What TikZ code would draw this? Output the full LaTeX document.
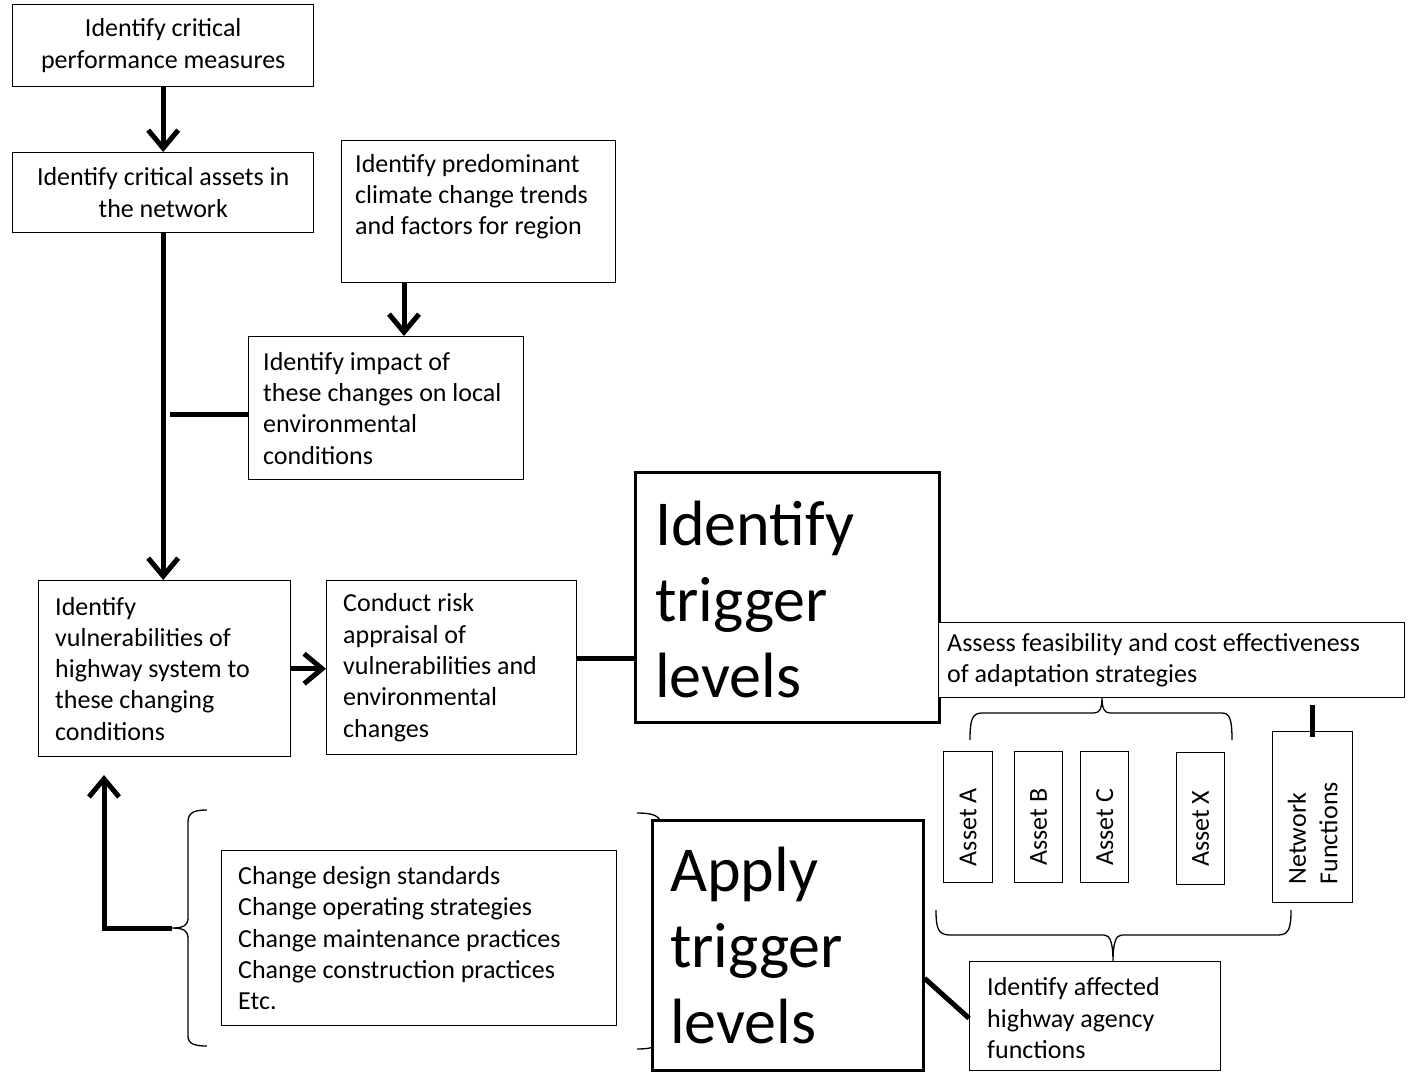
\documentclass[tikz,border=0pt]{standalone}
\usepackage{fontspec}
\setmainfont{Carlito}
\usetikzlibrary{arrows.meta}

\begin{document}
\begin{tikzpicture}[x=1pt,y=-1pt,
  box/.style={draw, line width=1.4pt, fill=white, inner sep=0pt, anchor=north west},
  heavybox/.style={box, line width=2.6pt},
  txt/.style={font=\fontsize{26}{31.3}\selectfont, inner sep=0pt, align=left},
  bigtxt/.style={font=\fontsize{64}{76}\selectfont, inner sep=0pt, align=left},
  flow/.style={line width=5pt, -{Straight Barb[length=18pt,width=30pt]}},
  link/.style={line width=5pt},
  curly/.style={line width=1.3pt}]

\useasboundingbox (0,0) rectangle (1408,1072);

% braces (drawn first so boxes can cover them)
\draw[curly] (970,740) .. controls (970,720) and (972,713) .. (982,713) -- (1094,713)
  .. controls (1100,713) and (1102,708) .. (1102,697)
  .. controls (1102,708) and (1104,713) .. (1110,713) -- (1222,713)
  .. controls (1230,713) and (1232,720) .. (1232,740);
\draw[curly] (936,910) .. controls (936,928) and (938,935) .. (950,935) -- (1104,935)
  .. controls (1110,935) and (1113,942) .. (1113,962)
  .. controls (1113,942) and (1116,935) .. (1122,935) -- (1278,935)
  .. controls (1289,935) and (1291,928) .. (1291,910);
\draw[curly] (207,810) .. controls (195,810) and (188,812) .. (188,822) -- (188,918)
  .. controls (188,925) and (184,928) .. (172,928)
  .. controls (184,928) and (188,931) .. (188,938) -- (188,1036)
  .. controls (188,1044) and (195,1046) .. (207,1046);
\draw[curly] (637,813) .. controls (652,813) and (662,815) .. (662,828) -- (662,918)
  .. controls (662,925) and (668,930) .. (680,930)
  .. controls (668,930) and (662,935) .. (662,942) -- (662,1038)
  .. controls (662,1046) and (652,1049) .. (637,1049);

% boxes
\node[box, minimum width=301, minimum height=82] (b1) at (12,4) {};
\node[box, minimum width=301, minimum height=80] (b2) at (12,152) {};
\node[box, minimum width=274, minimum height=142] (b3) at (341,140) {};
\node[box, minimum width=275, minimum height=143] (b4) at (248,336) {};
\node[box, minimum width=252, minimum height=176] (b5) at (38,580) {};
\node[box, minimum width=250, minimum height=174] (b6) at (326,580) {};
\node[heavybox, minimum width=304, minimum height=250] (b7) at (634,471) {};
\node[box, minimum width=466, minimum height=75] (b8) at (938,622) {};
\node[box, minimum width=49, minimum height=131] (aA) at (943,751) {};
\node[box, minimum width=48, minimum height=131] (aB) at (1014,751) {};
\node[box, minimum width=48, minimum height=131] (aC) at (1080,751) {};
\node[box, minimum width=48, minimum height=132] (aX) at (1176,752) {};
\node[box, minimum width=80, minimum height=171] (nf) at (1272,731) {};
\node[box, minimum width=395, minimum height=175] (b11) at (221,850) {};
\node[heavybox, minimum width=271, minimum height=250] (b10) at (651,819) {};
\node[box, minimum width=251, minimum height=109] (b9) at (969,961) {};

% texts
\node[txt, align=center] (t1) at (b1.center) {Identify critical\\performance measures};
\node[txt, align=center] (t2) at (b2.center) {Identify critical assets in\\the network};
\node[txt, anchor=west] (t3) at ([shift={(14,-15)}]b3.west) {Identify predominant\\climate change trends\\and factors for region};
\node[txt, anchor=west] (t4) at ([shift={(15,0)}]b4.west) {Identify impact of\\these changes on local\\environmental\\conditions};
\node[txt, anchor=west] (t5) at ([shift={(17,0)}]b5.west) {Identify\\vulnerabilities of\\highway system to\\these changing\\conditions};
\node[txt, anchor=west] (t6) at ([shift={(17,0)}]b6.west) {Conduct risk\\appraisal of\\vulnerabilities and\\environmental\\changes};
\node[bigtxt, anchor=west] (t7) at ([shift={(21,2)}]b7.west) {Identify\\trigger\\levels};
\node[txt, anchor=west] (t8) at ([shift={(9,0)}]b8.west) {Assess feasibility and cost effectiveness\\of adaptation strategies};
\node[txt, rotate=90] (tA) at ([shift={(0,10)}]aA.center) {Asset A};
\node[txt, rotate=90] (tB) at ([shift={(0,10)}]aB.center) {Asset B};
\node[txt, rotate=90] (tC) at ([shift={(0,10)}]aC.center) {Asset C};
\node[txt, rotate=90] (tX) at ([shift={(0,10)}]aX.center) {Asset X};
\node[txt, rotate=90] (tnf) at ([shift={(0,16)}]nf.center) {Network\\Functions};
\node[txt, anchor=west] (t11) at ([shift={(17,0)}]b11.west) {Change design standards\\Change operating strategies\\Change maintenance practices\\Change construction practices\\Etc.};
\node[bigtxt, anchor=west] (t10) at ([shift={(19,0)}]b10.west) {Apply\\trigger\\levels};
\node[txt, anchor=west] (t9) at ([shift={(18,2)}]b9.west) {Identify affected\\highway agency\\functions};

% connectors
\coordinate (j1) at (170,414);
\coordinate (j2) at (172,928);
\coordinate (j3) at (104,775);

\draw[flow] (b1.south) -- (b2.north);
\draw[flow] (b2.south) -- (b2.south |- b5.north);
\draw[flow] ([shift={(63,0)}]b3.south west) -- ([shift={(63,0)}]b3.south west |- b4.north);
\draw[link] (j1) -- (j1 -| b4.west);
\draw[flow] (b5.east) -- (b5.east -| b6.west);
\draw[link] ([shift={(0,-9)}]b6.east) -- ([shift={(0,-9)}]b6.east -| b7.west);
\draw[link] ([shift={(0,-26)}]nf.north) -- ([shift={(0,6)}]nf.north);
\draw[link] ([shift={(0,33)}]b10.east) -- ([shift={(0,2)}]b9.west);
\draw[flow] (j2) -| (j3);

\end{tikzpicture}
\end{document}
